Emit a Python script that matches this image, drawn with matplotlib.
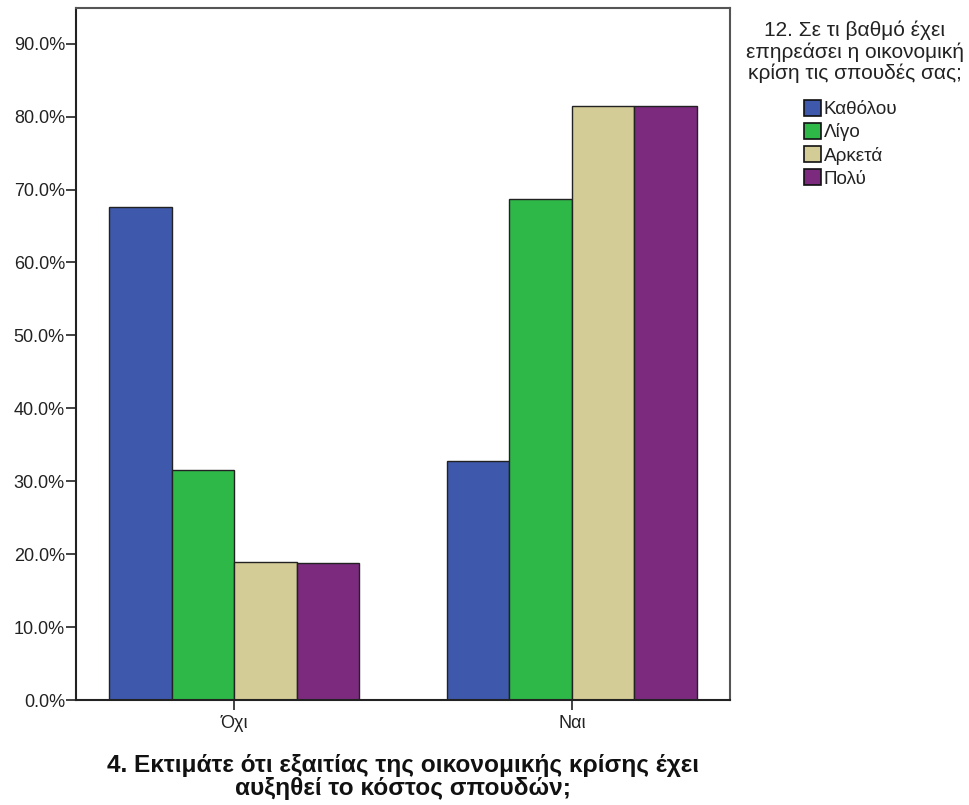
import matplotlib
matplotlib.use("Agg")
import matplotlib.pyplot as plt
import numpy as np
from matplotlib.patches import Patch
from matplotlib.ticker import FuncFormatter
from matplotlib import font_manager as fm
import os

def find_font(name):
    for f in fm.findSystemFonts():
        if os.path.basename(f) == name:
            return f
    return None

reg = find_font('LiberationSans-Regular.ttf')
bold = find_font('LiberationSans-Bold.ttf')
fp = fm.FontProperties(fname=reg) if reg else fm.FontProperties(family='Liberation Sans')
fpb = fm.FontProperties(fname=bold) if bold else fm.FontProperties(family='Liberation Sans', weight='bold')

categories = ['Όχι', 'Ναι']
series_names = ['Καθόλου', 'Λίγο', 'Αρκετά', 'Πολύ']
values = {
    'Καθόλου': [67.6, 32.8],
    'Λίγο': [31.6, 68.7],
    'Αρκετά': [18.9, 81.4],
    'Πολύ': [18.8, 81.5],
}
colors = ['#3E58AC', '#2EB848', '#D4CC96', '#7B2A7E']
legend_title = '12. Σε τι βαθμό έχει\nεπηρεάσει η οικονομική\nκρίση τις σπουδές σας;'
xlabel = '4. Εκτιμάτε ότι εξαιτίας της οικονομικής κρίσης έχει\nαυξηθεί το κόστος σπουδών;'
yticks = np.arange(0, 91, 10)

fig = plt.figure(figsize=(9.69, 8.05), dpi=100)
ax = fig.add_axes([76/969, 105/805, 654/969, 692/805])

x = np.arange(len(categories))
w = 0.185
for i, (name, c) in enumerate(zip(series_names, colors)):
    ax.bar(x + (i - 1.5) * w, values[name], width=w, color=c,
           edgecolor='#222222', linewidth=1.0, zorder=2)

ax.set_xlim(-2 * w - 0.0976, 1 + 2 * w + 0.0976)
ax.set_ylim(0, 94.9)
ax.set_yticks(yticks)
ax.yaxis.set_major_formatter(FuncFormatter(lambda v, p: f'{v:.1f}%'))
ax.set_xticks(x)
ax.set_xticklabels(categories)
ax.tick_params(axis='y', length=7, width=1.2, color='#222222', labelcolor='#222222', pad=1)
ax.tick_params(axis='x', length=7, width=1.2, color='#222222', labelcolor='#222222', pad=4)
for lab in ax.get_yticklabels() + ax.get_xticklabels():
    lab.set_fontproperties(fp)
    lab.set_fontsize(13)
for s in ['left', 'bottom']:
    ax.spines[s].set_linewidth(1.5)
    ax.spines[s].set_color('#222222')
for s in ['top', 'right']:
    ax.spines[s].set_linewidth(1.5)
    ax.spines[s].set_color('#555555')

t = fig.text((76 + 654/2)/969, 1 - 777/805, xlabel, ha='center', va='center',
             fontproperties=fpb, color='#111111', linespacing=1.0)
t.set_fontsize(17.6)

t2 = fig.text(855/969, 1 - 52/805, legend_title, ha='center', va='center',
              fontproperties=fp, color='#222222', linespacing=1.12, multialignment='center')
t2.set_fontsize(15)

handles = [Patch(facecolor=c, edgecolor='#111111', linewidth=1.2) for c in colors]
lfp = fp.copy()
lfp.set_size(13.6)
leg = fig.legend(handles, series_names, loc='upper left',
                 bbox_to_anchor=(804/969, 1 - 100/805), frameon=False,
                 prop=lfp, handlelength=0.9, handleheight=0.9,
                 handletextpad=0.15, labelspacing=0.25, borderpad=0, borderaxespad=0)
for tt in leg.get_texts():
    tt.set_color('#222222')

fig.savefig('out.png', dpi=100)
